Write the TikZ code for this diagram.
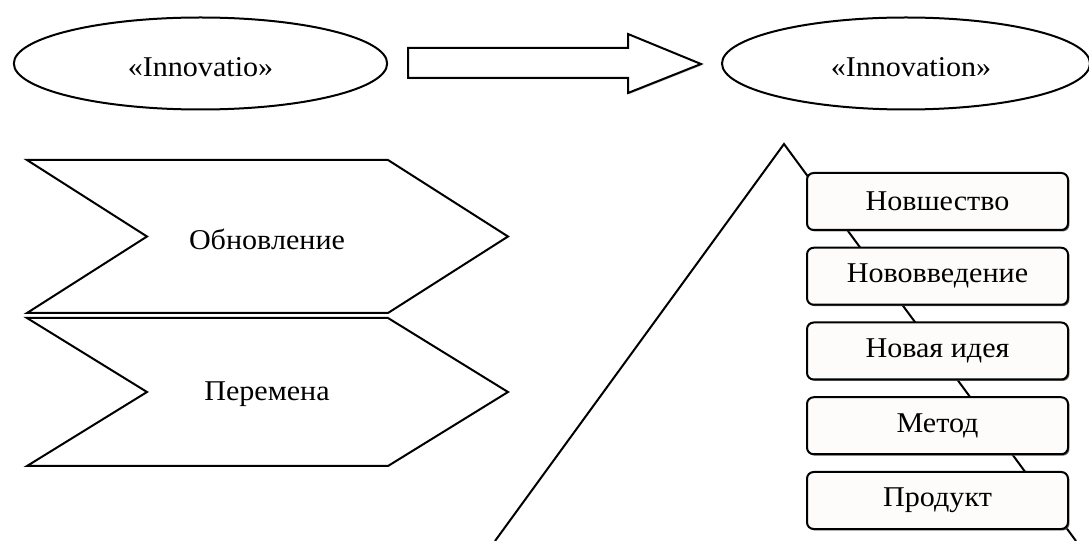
\documentclass[tikz,border=0pt]{standalone}
\usepackage{fontspec}
\setmainfont{Liberation Serif}[FakeStretch=1.05]
\usetikzlibrary{shapes.geometric,shadows,calc}
\begin{document}
\begin{tikzpicture}[x=0.75pt,y=-0.75pt,
  outline/.style={draw=black,line width=1.5pt,line join=miter},
  ell/.style={outline,ellipse,inner sep=0pt,fill=white},
  lbl/.style={font=\fontsize{21.5}{24}\selectfont,inner sep=0pt},
  chev/.style={outline,fill=white},
  termbox/.style={draw=black,line width=1.5pt,rounded corners=5pt,fill={rgb,255:red,253;green,252;blue,250},
    minimum width=195.75pt,minimum height=42.75pt,inner sep=0pt,
    font=\fontsize{21.5}{24}\selectfont,
    drop shadow={shadow xshift=1.1pt,shadow yshift=-1.1pt,fill=black!65,opacity=0.9}},
  leg/.style={draw=black,line width=1.5pt}]
\useasboundingbox (0,0) rectangle (1089,541);
% top ellipses
\node[ell,minimum width=280pt,minimum height=69pt] (e1) at (200.5,63.5) {};
\node[lbl] (e1t) at (200.5,67) {«Innovatio»};
\node[ell,minimum width=276pt,minimum height=69pt] (e2) at (906,63.5) {};
\node[lbl] (e2t) at (911,67) {«Innovation»};
% block arrow between them
\draw[outline,fill=white,drop shadow={shadow xshift=0.9pt,shadow yshift=-0.9pt,fill=black!55}]
  ($(e1.east)+(20,-15.5)$) coordinate (a1) -- (628,48) -- (628,34) -- ($(e2.west)+(-20,0.5)$) coordinate (a2)
  -- (628,93) -- (628,78) -- ($(e1.east)+(20,14.5)$) -- cycle;
% chevrons
\draw[chev] (27,160) -- (388,160) -- (508,236.5) -- (388,313) -- (27,313) -- (147,236.5) -- cycle;
\node[lbl] (c1) at (267,239) {Обновление};
\draw[chev] (27,318) -- (388,318) -- (508,392) -- (388,466) -- (27,466) -- (147,392) -- cycle;
\node[lbl] (c2) at (267,394) {Перемена};
% pyramid
\coordinate (apex) at (784,144);
\coordinate (lf) at (495,541);
\coordinate (rf) at (1076,541);
\draw[leg] (lf) -- (apex) -- (rf);
% stacked terms
\node[termbox] (t1) at (937.5,201.5) {Новшество};
\node[termbox] (t2) at (937.5,276.25) {Нововведение};
\node[termbox] (t3) at (937.5,351) {Новая идея};
\node[termbox] (t4) at (937.5,425.75) {Метод};
\node[termbox] (t5) at (937.5,500.5) {Продукт};
\end{tikzpicture}
\end{document}
